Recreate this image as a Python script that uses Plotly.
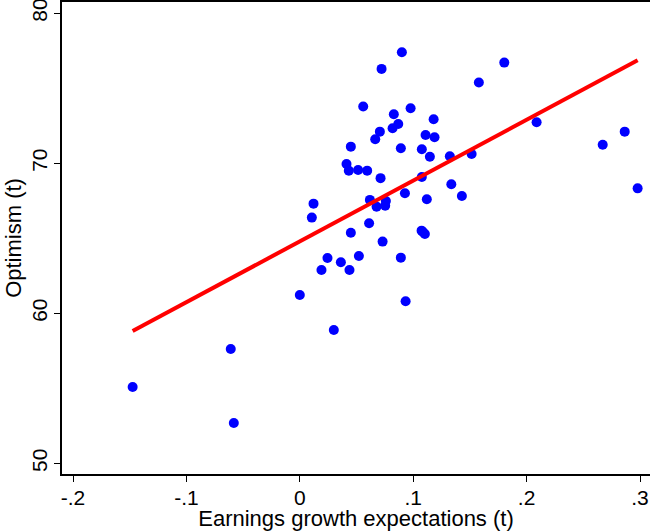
import plotly.graph_objects as go

# Data
earnings_growth = [-0.1474, -0.0609, -0.0582, 0.0000, 0.0300, 0.0933, 0.0191, 0.0438,
                   0.0244, 0.0362, 0.0521, 0.0891, 0.0730, 0.0450, 0.0611, 0.1074,
                   0.1103, 0.1088, 0.0121, 0.0106, 0.0618, 0.0677, 0.0759, 0.0753,
                   0.0927, 0.1120, 0.1429, 0.1336, 0.0712, 0.1076, 0.0412, 0.0432,
                   0.0514, 0.0594, 0.1147, 0.1323, 0.1515, 0.0450, 0.0891, 0.1076,
                   0.1109, 0.1188, 0.0665, 0.0706, 0.0818, 0.0868, 0.1180, 0.0559,
                   0.0829, 0.0977, 0.0721, 0.0900, 0.1579, 0.1803, 0.2088, 0.2671,
                   0.2865, 0.2979]
optimism = [55.09, 57.62, 52.69, 61.22, 58.89, 60.80, 62.89, 62.89,
            63.69, 63.40, 63.82, 63.71, 64.78, 65.37, 66.00, 65.51,
            65.29, 65.40, 67.31, 66.38, 67.56, 67.11, 67.49, 67.17,
            68.00, 67.60, 67.82, 68.60, 69.01, 69.09, 69.95, 69.51,
            69.55, 69.51, 70.44, 70.47, 70.62, 71.11, 71.00, 70.93,
            71.89, 71.73, 71.60, 72.11, 72.33, 72.62, 72.93, 73.78,
            73.27, 73.67, 76.29, 77.40, 75.38, 76.71, 72.73, 71.24,
            72.11, 68.33]

fit_x = [-0.1474, 0.2979]
fit_y = [58.82, 76.87]

x_tickvals = [-0.2, -0.1, 0, 0.1, 0.2, 0.3]
x_ticktext = ["-.2", "-.1", "0", ".1", ".2", ".3"]
y_tickvals = [50, 60, 70, 80]
y_ticktext = ["50", "60", "70", "80"]

FONT = "Liberation Sans, Arial, sans-serif"

fig = go.Figure()
fig.add_trace(go.Scatter(
    x=earnings_growth, y=optimism, mode="markers",
    marker=dict(color="#0000FF", size=10, line=dict(width=0)),
    showlegend=False, hoverinfo="skip", cliponaxis=False))
fig.add_trace(go.Scatter(
    x=fit_x, y=fit_y, mode="lines",
    line=dict(color="#FF0000", width=4),
    showlegend=False, hoverinfo="skip"))

fig.update_layout(
    width=650, height=531,
    margin=dict(l=62, r=0, t=2, b=57, autoexpand=False),
    paper_bgcolor="white", plot_bgcolor="white",
    font=dict(family=FONT, color="black", size=21),
    xaxis=dict(
        range=[-0.2097, 0.3088], tickvals=x_tickvals, ticktext=x_ticktext,
        showgrid=False, zeroline=False, showline=True, linecolor="black",
        linewidth=2, mirror=True, ticks="outside", ticklen=6, tickwidth=1,
        tickcolor="black", tickfont=dict(size=21), automargin=False,
        ticklabeloverflow="allow", ticklabelstandoff=-2,
        title=dict(text="Earnings growth expectations (t)", font=dict(size=22), standoff=0),
    ),
    yaxis=dict(
        range=[49.29, 80.75], tickvals=y_tickvals, ticktext=y_ticktext,
        showgrid=False, zeroline=False, showline=True, linecolor="black",
        linewidth=2, mirror=False, ticks="outside", ticklen=6, tickwidth=1,
        tickcolor="black", tickangle=-90, tickfont=dict(size=21), automargin=False,
        ticklabeloverflow="allow", ticklabelstandoff=-1,
        title=dict(text="Optimism (t)", font=dict(size=22), standoff=0),
    ),
)

fig.write_html("out.html", config={"displayModeBar": False},
               post_script="document.body.style.margin='0';")
